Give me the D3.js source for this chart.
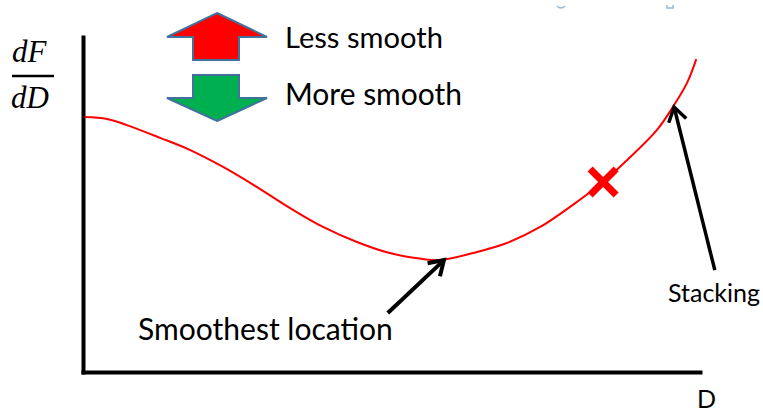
<!DOCTYPE html>
<html>
<head>
<meta charset="utf-8">
<script src="https://cdn.jsdelivr.net/npm/d3@7"></script>
<style>
  html, body { margin: 0; padding: 0; background: #fff; }
  svg { display: block; }
</style>
</head>
<body>
<div id="chart"></div>
<script>
// curve of dF/dD against D (both in arbitrary units, 0-100)
const curveD  = [0.3, 3.9, 7.1, 12.5, 17.3, 22.7, 28.2, 33.5, 38.9, 44.4, 49.7, 55.1, 57.9,
                 63.2, 68.7, 74.1, 79.4, 84.3, 88.2, 93.0, 95.6, 97.9, 99.4];
const curveDF = [76.1, 75.5, 73.7, 69.9, 66.3, 61.2, 55.2, 49.0, 43.3, 38.8, 35.5, 33.7, 33.4,
                 35.5, 38.5, 43.3, 49.9, 56.7, 63.3, 72.2, 79.1, 86.3, 93.4];

// the red cross on the curve
const markD  = [84.3];
const markDF = [56.7];

// annotation arrows: tail -> tip, in data units
const arrowNames  = ['Smoothest location', 'Stacking'];
const arrowTailD  = [49.4, 102.4];
const arrowTailDF = [17.6, 30.4];
const arrowTipD   = [58.5, 95.8];
const arrowTipDF  = [33.4, 79.1];

// legend
const legendLabels = ['Less smooth', 'More smooth'];
const legendColors = ['#ff0000', '#00b050'];

class SketchChart {

  constructor(_config) {
    this.config = {
      parentElement: _config.parentElement,
      containerWidth: 763,
      containerHeight: 415,
      margin: {top: 37, right: 63, bottom: 43, left: 83}
    };
    this.initVis();
  }

  initVis() {
    let vis = this;
    const m = vis.config.margin;

    vis.svg = d3.select(vis.config.parentElement)
      .append('svg')
      .attr('width', vis.config.containerWidth)
      .attr('height', vis.config.containerHeight);

    // scales
    vis.x = d3.scaleLinear().domain([0, 100]).range([m.left, vis.config.containerWidth - m.right]);
    vis.y = d3.scaleLinear().domain([0, 100]).range([vis.config.containerHeight - m.bottom, m.top]);

    // axes, no ticks, just the bare lines
    vis.svg.append('g')
      .attr('class', 'x-axis')
      .attr('transform', `translate(0, ${vis.y(0)})`)
      .call(d3.axisBottom(vis.x).tickValues([]).tickSizeOuter(0));
    vis.svg.append('g')
      .attr('class', 'y-axis')
      .attr('transform', `translate(${vis.x(0)}, 0)`)
      .call(d3.axisLeft(vis.y).tickValues([]).tickSizeOuter(0));
    vis.svg.selectAll('.domain')
      .attr('stroke', '#000')
      .attr('stroke-width', 4)
      .attr('stroke-linecap', 'square');

    // axis titles
    const fr = vis.svg.append('g').attr('class', 'y-title')
      .attr('font-family', '"Liberation Serif", "DejaVu Serif", serif')
      .attr('font-style', 'italic')
      .attr('font-size', 31);
    fr.append('text').attr('x', 12).attr('y', 62).text('dF');
    fr.append('text').attr('x', 11).attr('y', 108).text('dD');
    fr.append('line')
      .attr('x1', 12).attr('x2', 54).attr('y1', 76).attr('y2', 76)
      .attr('stroke', '#000').attr('stroke-width', 2.5);

    vis.svg.append('text')
      .attr('x', 697).attr('y', 408)
      .attr('font-family', 'Lato, "Open Sans", sans-serif')
      .attr('font-size', 25)
      .text('D');

    // legend arrows
    const up = [[217, 13], [267, 37], [239, 37], [239, 60], [193, 60], [193, 37], [167, 37]];
    const down = [[217, 121], [267, 98], [239, 98], [239, 75], [193, 75], [193, 98], [167, 98]];
    [up, down].forEach((pts, i) => {
      vis.svg.append('path')
        .attr('d', d3.line()(pts) + 'Z')
        .attr('fill', legendColors[i])
        .attr('stroke', '#41719c')
        .attr('stroke-width', 2)
        .attr('stroke-linejoin', 'miter');
    });
    const legendY = [48, 105];
    const legendW = [158, 177];
    legendLabels.forEach((t, i) => {
      vis.fitText(vis.svg.append('text')
        .attr('x', 285).attr('y', legendY[i])
        .attr('font-family', 'Lato, "Open Sans", sans-serif')
        .attr('fill', '#000')
        .text(t), legendW[i], 32);
    });

    // small leftover handle marks at the top
    vis.svg.append('path')
      .attr('d', 'M557,6 Q561,10 565,6')
      .attr('fill', 'none').attr('stroke', '#9db7d5').attr('stroke-width', 1.5);
    vis.svg.append('path')
      .attr('d', 'M667,5 L667,8 L673,8 L673,5')
      .attr('fill', 'none').attr('stroke', '#9db7d5').attr('stroke-width', 1.5);

    vis.renderVis();
  }

  // shrink or grow the font so the text spans the width
  fitText(sel, targetWidth, startSize) {
    sel.attr('font-size', startSize);
    const w = sel.node().getComputedTextLength();
    if (w > 0) sel.attr('font-size', startSize * targetWidth / w);
    return sel;
  }

  renderVis() {
    let vis = this;
    const pts = curveD.map((d, i) => [d, curveDF[i]]);

    const line = d3.line()
      .x(d => vis.x(d[0]))
      .y(d => vis.y(d[1]))
      .curve(d3.curveCatmullRom.alpha(0.5));

    vis.svg.append('path')
      .datum(pts)
      .attr('class', 'curve')
      .attr('d', line)
      .attr('fill', 'none')
      .attr('stroke', '#ff0000')
      .attr('stroke-width', 2);

    // red cross
    const s = 13;
    markD.forEach((d, i) => {
      const cx = vis.x(d), cy = vis.y(markDF[i]);
      const g = vis.svg.append('g').attr('transform', `translate(${cx}, ${cy})`);
      g.append('line').attr('x1', -s).attr('y1', -s).attr('x2', s).attr('y2', s);
      g.append('line').attr('x1', -s).attr('y1', s).attr('x2', s).attr('y2', -s);
      g.selectAll('line').attr('stroke', '#ff0000').attr('stroke-width', 7);
    });

    // annotation arrows
    const widths = [4, 3.5];
    arrowNames.forEach((name, i) => {
      const x1 = vis.x(arrowTailD[i]), y1 = vis.y(arrowTailDF[i]);
      const x2 = vis.x(arrowTipD[i]), y2 = vis.y(arrowTipDF[i]);
      const ang = Math.atan2(y2 - y1, x2 - x1) * 180 / Math.PI;
      vis.svg.append('line')
        .attr('x1', x1).attr('y1', y1).attr('x2', x2).attr('y2', y2)
        .attr('stroke', '#000').attr('stroke-width', widths[i]);
      vis.svg.append('path')
        .attr('d', 'M-14,-9L0,0L-14,9')
        .attr('transform', `translate(${x2}, ${y2}) rotate(${ang})`)
        .attr('fill', 'none')
        .attr('stroke', '#000')
        .attr('stroke-width', widths[i])
        .attr('stroke-linejoin', 'miter');
    });

    // annotation labels
    vis.fitText(vis.svg.append('text')
      .attr('x', 138).attr('y', 340)
      .attr('font-family', 'Lato, "Open Sans", sans-serif')
      .text(arrowNames[0]), 255, 32);
    vis.fitText(vis.svg.append('text')
      .attr('x', 668).attr('y', 302)
      .attr('font-family', 'Lato, "Open Sans", sans-serif')
      .text(arrowNames[1]), 92, 27);
  }
}

new SketchChart({parentElement: '#chart'});
</script>
</body>
</html>
